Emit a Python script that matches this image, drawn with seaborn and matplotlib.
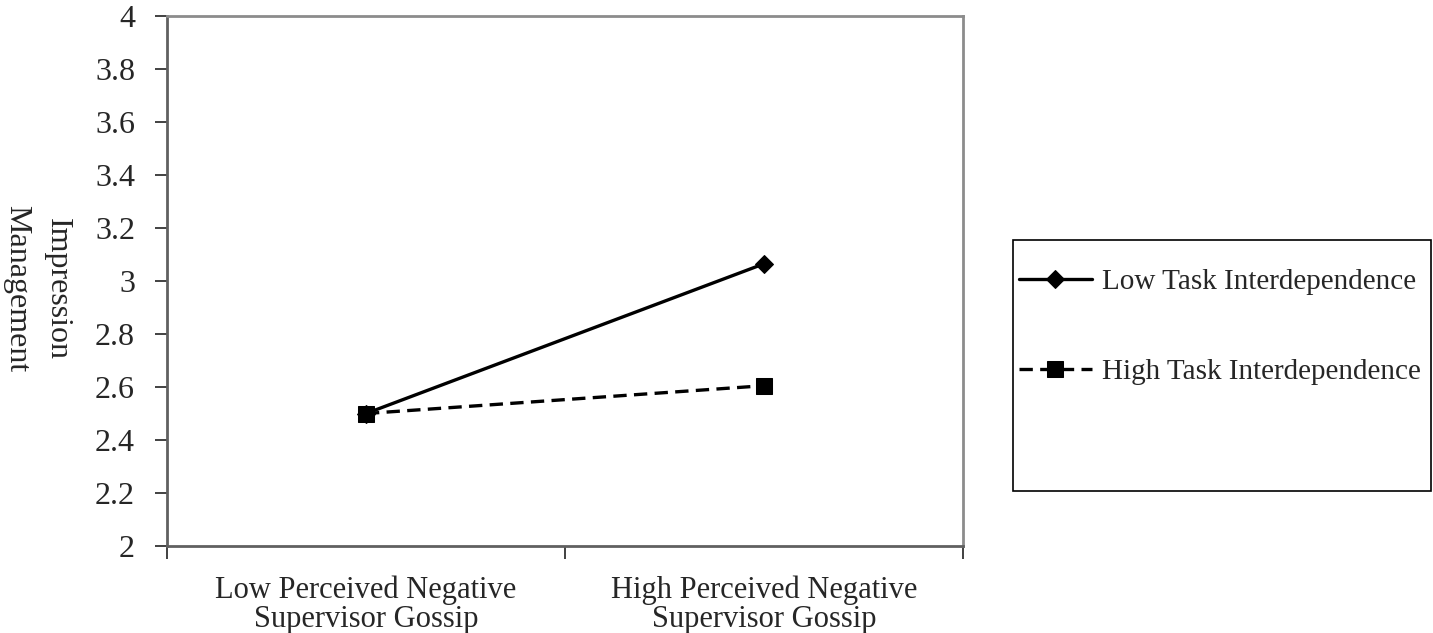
import numpy as np
import pandas as pd
import matplotlib
matplotlib.use("Agg")
import matplotlib.pyplot as plt
from matplotlib.patches import Rectangle
import seaborn as sns

GOSSIP = ["Low Perceived Negative\nSupervisor Gossip", "High Perceived Negative\nSupervisor Gossip"]
SERIES = ["Low Task Interdependence", "High Task Interdependence"]
LOW_TASK = [2.50, 3.065]
HIGH_TASK = [2.50, 2.605]

Y_TICKS = [2, 2.2, 2.4, 2.6, 2.8, 3, 3.2, 3.4, 3.6, 3.8, 4]

WIDTH = 14.33
HEIGHT = 6.33
FONT_SIZE = 22

sns.set_style("ticks")
plt.rcParams['font.family'] = ['Liberation Serif', 'DejaVu Serif']

rows = []
for name, vals in zip(SERIES, [LOW_TASK, HIGH_TASK]):
    for i, v in enumerate(vals):
        rows.append({"x": i, "value": v, "series": name})
df = pd.DataFrame(rows)

fig, ax = plt.subplots(figsize=[WIDTH, HEIGHT], dpi=100)
fig.subplots_adjust(left=0.1165, right=0.672, bottom=0.1374, top=0.9747)

sns.lineplot(data=df, x="x", y="value", hue="series", style="series",
             hue_order=SERIES, style_order=SERIES,
             palette=["black", "black"],
             markers={SERIES[0]: "D", SERIES[1]: "s"},
             dashes={SERIES[0]: "", SERIES[1]: (4, 2.2)},
             markersize=9, linewidth=2.4, markeredgecolor="black",
             ax=ax)
for line in ax.lines:
    if line.get_marker() == "D":
        line.set_markersize(9.5)
    elif line.get_marker() == "s":
        line.set_markersize(11.5)

ax.set_xlim(-0.5, 1.5)
ax.set_ylim(2, 4)
ax.set_yticks(Y_TICKS)
ax.set_yticklabels([f"{t:g}" for t in Y_TICKS], fontsize=23)
ax.set_xticks([-0.5, 0.5, 1.5])
ax.set_xticklabels([])
ax.set_xticks([0, 1], minor=True)
ax.set_xticklabels(GOSSIP, minor=True, fontsize=FONT_SIZE, linespacing=1.0)
ax.tick_params(axis="x", which="minor", length=0, pad=21)
ax.tick_params(axis="both", which="major", length=9, width=1.3, color="#333333")
ax.tick_params(axis="y", pad=14)
ax.set_xlabel("")
ax.set_ylabel("Impression\nManagement", rotation=-90, fontsize=23,
              labelpad=0, linespacing=1.55, va="center", ha="center")
ax.yaxis.set_label_coords(-0.163, 0.485)

for side in ["left", "bottom"]:
    ax.spines[side].set_color("#606060")
    ax.spines[side].set_linewidth(2)
for side in ["top", "right"]:
    ax.spines[side].set_visible(True)
    ax.spines[side].set_color("#8c8c8c")
    ax.spines[side].set_linewidth(2)

# legend box drawn separately so the entries can sit high inside it like the original
ax.get_legend().remove()
fig.patches.append(Rectangle((0.707, 0.224), 0.2916, 0.397, transform=fig.transFigure,
                             fill=False, edgecolor="black", linewidth=1.2))
handles, labels = ax.get_legend_handles_labels()
leg = fig.legend(handles, labels, loc="upper left",
                 bbox_to_anchor=(0.711, 0.576),
                 fontsize=21, frameon=False, handlelength=2.5,
                 handletextpad=0.35, labelspacing=2.2, borderpad=0,
                 borderaxespad=0)

fig.savefig("out.png", dpi=100)
